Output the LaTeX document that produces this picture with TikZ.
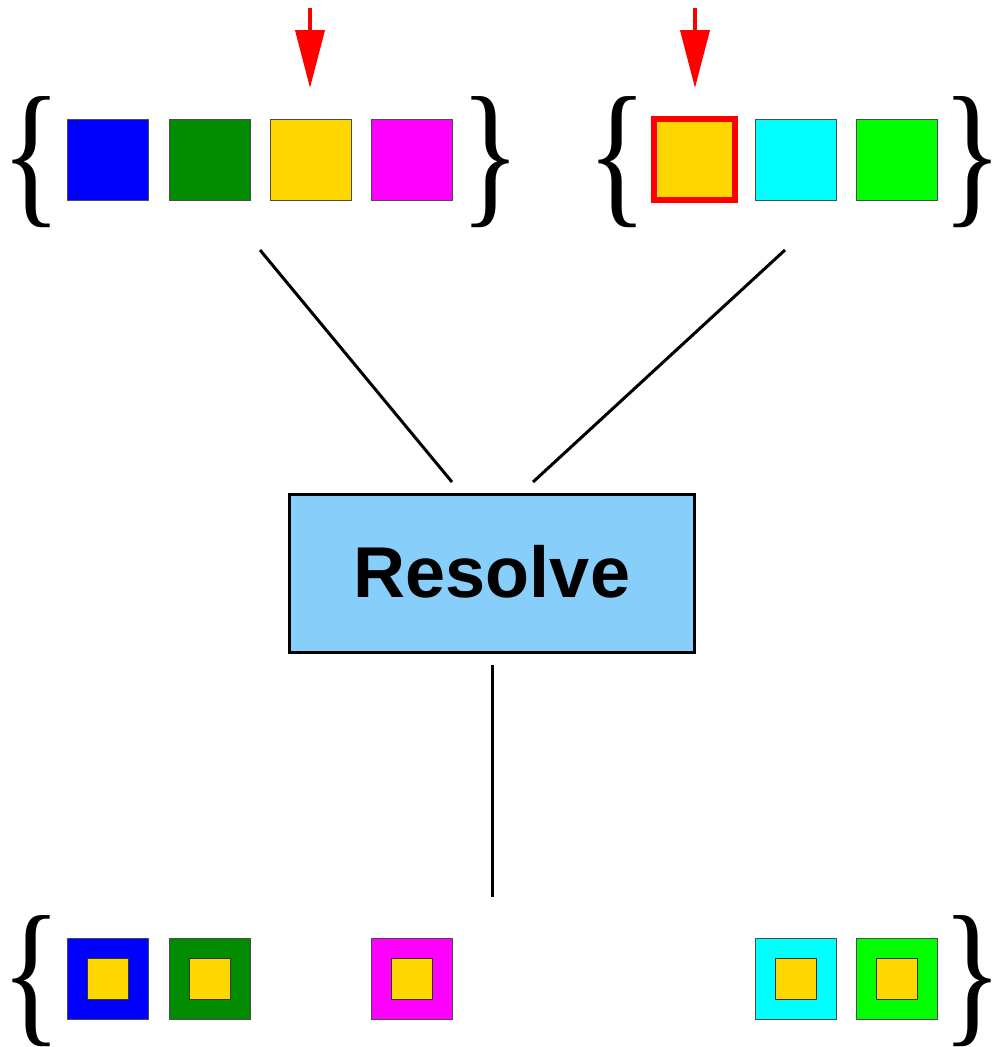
\documentclass[tikz,border=0pt]{standalone}
\usepackage{fontspec}
\usepackage{graphicx}
\setmainfont{Liberation Sans}
\newfontfamily\bracefont{Liberation Serif}
\usetikzlibrary{arrows.meta}
\definecolor{cblue}{RGB}{0,0,255}
\definecolor{cgreen}{RGB}{0,139,0}
\definecolor{cyellow}{RGB}{255,215,0}
\definecolor{cmagenta}{RGB}{255,0,255}
\definecolor{ccyan}{RGB}{0,255,255}
\definecolor{clime}{RGB}{0,255,0}
\definecolor{cbox}{RGB}{135,206,250}
\tikzset{
  sq/.style={draw=black!70, line width=0.6pt, minimum size=81pt, inner sep=0pt, outer sep=0pt},
  inner/.style={draw=black!80, line width=0.6pt, fill=cyellow, minimum size=41pt, inner sep=0pt},
  brace/.style={inner sep=0pt, outer sep=0pt},
  conn/.style={line width=3pt},
  pointer/.style={draw=red, line width=4pt, -{Triangle[length=58pt,width=29pt]}},
}
\newcommand{\lbr}{\resizebox*{60pt}{131pt}{\bracefont\{}}
\newcommand{\rbr}{\resizebox*{60pt}{131pt}{\bracefont\}}}
\begin{document}
\begin{tikzpicture}[x=1pt,y=-1pt]
\useasboundingbox (0,0) rectangle (991,1047);
% top left group
\node[brace] (tlb1) at (31.5,162.5) {\lbr};
\node[sq, fill=cblue] (t1) at (108.2,159.5) {};
\node[sq, fill=cgreen] (t2) at (209.5,159.5) {};
\node[sq, fill=cyellow] (t3) at (310.5,159.5) {};
\node[sq, fill=cmagenta] (t4) at (411.5,159.5) {};
\node[brace] (tlb2) at (490.5,162.5) {\rbr};
% top right group
\node[brace] (trb1) at (618,162.5) {\lbr};
\node[sq, fill=cyellow, draw=red, line width=6pt] (t5) at (694.5,159.5) {};
\node[sq, fill=ccyan] (t6) at (795.5,159.5) {};
\node[sq, fill=clime] (t7) at (896.8,159.5) {};
\node[brace] (trb2) at (973,162.5) {\rbr};
% arrows
\coordinate (a1s) at (310,8);
\coordinate (a1e) at (310,88);
\coordinate (a2s) at (695,8);
\coordinate (a2e) at (695,88);
\draw[pointer] (a1s) -- (a1e);
\draw[pointer] (a2s) -- (a2e);
% resolve box
\node[draw=black, line width=3pt, fill=cbox, minimum width=405pt, minimum height=158pt, inner sep=0pt,
  font=\fontsize{72}{80}\selectfont\bfseries] (res) at (492,573.5) {\raisebox{5pt}{Resolve}};
% connectors
\coordinate (c1) at (260,250);
\coordinate (r1) at (452,482);
\coordinate (c2) at (785,250);
\coordinate (r2) at (533,482);
\coordinate (r3) at (492,665);
\coordinate (c3) at (492,897);
\draw[conn] (c1) -- (r1);
\draw[conn] (c2) -- (r2);
\draw[conn] (r3) -- (c3);
% bottom group
\node[brace] (bb1) at (31.5,981) {\lbr};
\node[sq, fill=cblue] (b1) at (108.2,978.5) {};
\node[inner] (i1) at (b1) {};
\node[sq, fill=cgreen] (b2) at (209.5,978.5) {};
\node[inner] (i2) at (b2) {};
\node[sq, fill=cmagenta] (b3) at (411.5,978.5) {};
\node[inner] (i3) at (b3) {};
\node[sq, fill=ccyan] (b4) at (795.5,978.5) {};
\node[inner] (i4) at (b4) {};
\node[sq, fill=clime] (b5) at (896.8,978.5) {};
\node[inner] (i5) at (b5) {};
\node[brace] (bb2) at (973,981) {\rbr};
\end{tikzpicture}
\end{document}
